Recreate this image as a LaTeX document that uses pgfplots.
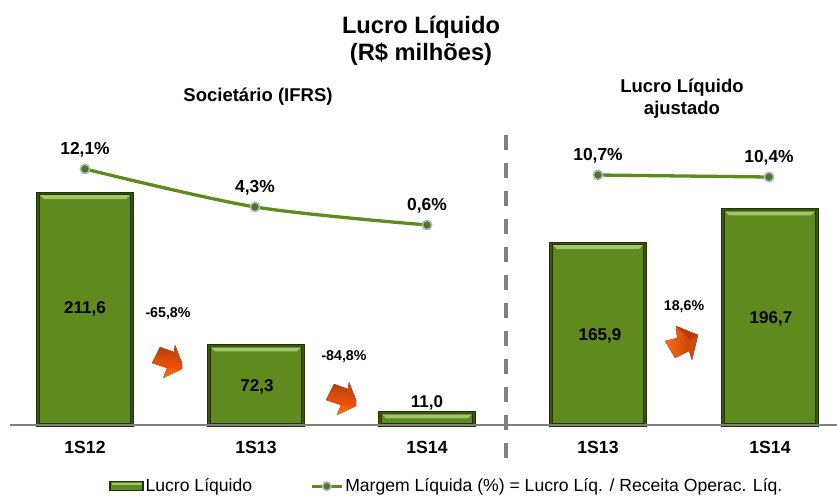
\documentclass[border=0pt]{standalone}
\usepackage{fontspec}
\setmainfont{Liberation Sans}
\usepackage{pgfplots}
\usepackage{pgfplotstable}
\pgfplotsset{compat=1.18}

\definecolor{barfill}{HTML}{5F8A1E}
\definecolor{bardark}{HTML}{24320A}
\definecolor{barmid}{HTML}{3A540C}
\definecolor{barlight}{HTML}{A0C868}
\definecolor{lineg}{HTML}{5F8A1E}
\definecolor{halo}{HTML}{A5B6CC}
\definecolor{arrowa}{HTML}{B83A08}
\definecolor{arrowb}{HTML}{FF6A10}
\definecolor{arrowc}{HTML}{F04A00}
\definecolor{arrowd}{HTML}{D04A10}

% highlight strip along the top edge of a bar
\pgfdeclareplotmark{bevel}{%
  \pgfpathmoveto{\pgfpoint{-45pt}{-1.5pt}}%
  \pgfpathlineto{\pgfpoint{45pt}{-1.5pt}}%
  \pgfpathlineto{\pgfpoint{41pt}{-5.5pt}}%
  \pgfpathlineto{\pgfpoint{-41pt}{-5.5pt}}%
  \pgfpathclose\pgfusepathqfill}

\pgfplotstableread{
x   lucro
85  211.6
256 72.3
427 11.0
598 165.9
770 196.7
}\lucrotable

\pgfplotsset{frame/.style={
  scale only axis, width=827pt, height=425pt,
  at={(10pt,70pt)}, anchor=south west,
  xmin=10, xmax=837, clip=false}}

\newcommand{\downarrowshape}[2]{%
  \begin{scope}[shift={(#1,#2)}]
    \fill[top color=arrowa, bottom color=arrowb]
      (0,18)--(8,2)--(22,7)--(23,0)--(30,18)--(30,24)--(11,33)--(15,23)--cycle;
    \fill[arrowc] (0,18)--(15,23)--(30,24)--(30,18)--(14,17)--cycle;
    \fill[arrowd] (22,7)--(23,0)--(30,18)--(24,17)--cycle;
  \end{scope}}
\newcommand{\uparrowshape}[2]{%
  \begin{scope}[shift={(#1,#2)}]
    \fill[left color=arrowb, right color=arrowa]
      (0,15)--(12,12)--(11,0)--(33,9)--(27,34)--(24,25)--(10,32)--cycle;
    \fill[arrowa] (11,0)--(33,9)--(25,14)--cycle;
    \fill[arrowd] (25,14)--(33,9)--(27,34)--(24,25)--cycle;
  \end{scope}}

\begin{document}
\begin{tikzpicture}
\useasboundingbox (0,0) rectangle (837pt,495pt);

\begin{axis}[frame,
  axis on top,
  ymin=0, ymax=388.8,
  axis y line=none,
  axis x line=bottom,
  x axis line style={-, draw=gray, line width=1.6pt},
  xtick={85,256,427,598,770},
  xticklabels={1S12,1S13,1S14,1S13,1S14},
  major tick length=0pt,
  tick style={draw=none},
  xticklabel style={font=\fontsize{17.6}{20}\selectfont\bfseries, yshift=-13pt},
  legend style={at={(axis cs:109,-56)}, anchor=west, draw=none, fill=none,
    legend columns=2, font=\fontsize{17.6}{20}\selectfont,
    inner xsep=0pt, inner ysep=0pt},
  legend cell align=left,
  ]
\addplot[ybar, bar width=94pt, bar shift=0pt, fill=barfill, draw=bardark,
  line width=0.9pt, double=barmid, double distance=1.6pt, forget plot]
  table[x=x,y=lucro] {\lucrotable};
\addplot[only marks, mark=bevel, color=barlight, forget plot]
  table[x=x,y=lucro] {\lucrotable};
\addlegendimage{legend image code/.code={
  \fill[barfill,draw=bardark,line width=1.4pt] (0pt,-4.5pt) rectangle (33pt,4.5pt);
  \fill[barlight] (2pt,2pt) rectangle (31pt,3.2pt);}}
\addlegendentry{Lucro Líquido\rule{56pt}{0pt}}
\addlegendimage{legend image code/.code={
  \draw[lineg,line width=3pt] (0pt,0pt) -- (30pt,0pt);
  \fill[lineg!85!black,draw=halo,line width=1.6pt] (15pt,0pt) circle (4.2pt);}}
\addlegendentry{Margem Líquida (\%) = Lucro Líq. / Receita Operac. Líq.}
\end{axis}

% margem, societario
\begin{axis}[frame, hide axis, ymin=-40.47, ymax=46.80]
\addplot[lineg, line width=3.3pt, smooth, mark=*, mark size=4.6pt,
  mark options={fill=lineg!85!black, draw=halo, line width=1.6pt},
  point meta=explicit symbolic,
  nodes near coords,
  nodes near coords style={anchor=center, yshift=19.5pt, color=black,
    font=\fontsize{17.4}{20}\selectfont\bfseries}]
  coordinates {(85,12.1) [12{,}1\%] (255,4.3) [4{,}3\%] (427,0.6) [0{,}6\%]};
\end{axis}

% margem, ajustado
\begin{axis}[frame, hide axis, ymin=-26.78, ymax=36.94]
\addplot[lineg, line width=3.3pt, mark=*, mark size=4.6pt,
  mark options={fill=lineg!85!black, draw=halo, line width=1.6pt},
  point meta=explicit symbolic,
  nodes near coords,
  nodes near coords style={anchor=center, yshift=19.5pt, color=black,
    font=\fontsize{17.4}{20}\selectfont\bfseries}]
  coordinates {(598,10.7) [10{,}7\%] (769,10.4) [10{,}4\%]};
\end{axis}

% everything else in image pixels, y downwards
\begin{scope}[x=1pt, y=-1pt, yshift=495pt]
  \draw[gray, line width=3.6pt, dash pattern=on 15pt off 13pt] (506,135) -- (506,459);

  \node[font=\fontsize{23.7}{28}\selectfont\bfseries] at (421,27) {Lucro Líquido};
  \node[font=\fontsize{23.7}{28}\selectfont\bfseries] at (421,54) {(R\$ milhões)};
  \node[font=\fontsize{18.5}{22}\selectfont\bfseries] at (258,97) {Societário (IFRS)};
  \node[font=\fontsize{18.5}{22}\selectfont\bfseries] at (682,88) {Lucro Líquido};
  \node[font=\fontsize{18.5}{22}\selectfont\bfseries] at (682,110) {ajustado};

  \begin{scope}[font=\fontsize{17}{20}\selectfont\bfseries]
    \node at (85,309) {211,6};
    \node at (257,387) {72,3};
    \node at (427,403) {11,0};
    \node at (600,336) {165,9};
    \node at (771,319) {196,7};
  \end{scope}

  \begin{scope}[font=\fontsize{14.2}{17}\selectfont\bfseries]
    \node at (168,314) {-65,8\%};
    \node at (344,357) {-84,8\%};
    \node at (684,307) {18,6\%};
  \end{scope}

  \downarrowshape{152}{345}
  \downarrowshape{326}{382}
  \uparrowshape{665}{326}
\end{scope}
\end{tikzpicture}
\end{document}
